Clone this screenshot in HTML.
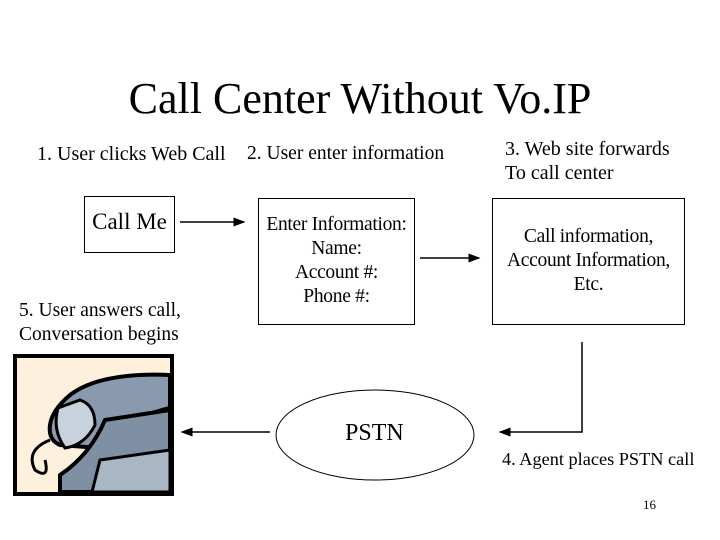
<!DOCTYPE html>
<html><head><style>
body{margin:0;width:720px;height:540px;background:#fff;position:relative;overflow:hidden;font-family:"Liberation Serif",serif;color:#000}
.t{position:absolute;white-space:nowrap}
.box{position:absolute;border:1px solid #000;box-sizing:border-box;text-align:center;font-family:"Liberation Serif",serif}
</style></head><body>
<div class="t" style="left:0;width:720px;text-align:center;top:73px;font-size:44px">Call Center Without Vo.IP</div>
<div class="t" style="left:37px;top:143px;font-size:20px">1. User clicks Web Call</div>
<div class="t" style="left:247px;top:143px;font-size:19.5px">2. User enter information</div>
<div class="t" style="left:505px;top:137px;font-size:20px;line-height:24px">3. Web site forwards<br>To call center</div>
<div class="t" style="left:19px;top:299px;font-size:19.5px;line-height:24px">5. User answers call,<br>Conversation begins</div>
<div class="t" style="left:502px;top:449px;font-size:18.3px">4. Agent places PSTN call</div>
<div class="t" style="left:643px;top:497px;font-size:13px">16</div>
<div class="box" style="left:84px;top:196px;width:91px;height:57px;font-size:23px;padding-top:12px">Call Me</div>
<div class="box" style="left:258px;top:198px;width:157px;height:127px;font-size:19.5px;line-height:24px;padding-top:14px;letter-spacing:-0.3px">Enter Information:<br>Name:<br>Account #:<br>Phone #:</div>
<div class="box" style="left:492px;top:198px;width:193px;height:127px;font-size:19.5px;line-height:24px;padding-top:26px;letter-spacing:-0.3px">Call information,<br>Account Information,<br>Etc.</div>
<div class="t" style="left:345px;top:420px;font-size:24px">PSTN</div>
<svg style="position:absolute;left:0;top:0" width="720" height="540">
<defs><marker id="a" markerWidth="8" markerHeight="6" refX="7" refY="3" orient="auto"><path d="M0,0L8,3L0,6z" fill="#000"/></marker></defs>
<g stroke="#000" stroke-width="1.5" fill="none">
<line x1="180" y1="222" x2="244" y2="222" marker-end="url(#a)"/>
<line x1="420" y1="258" x2="479" y2="258" marker-end="url(#a)"/>
<polyline points="582,342 582,432 500,432" marker-end="url(#a)"/>
<line x1="270" y1="432" x2="182" y2="432" marker-end="url(#a)"/>
</g>
<ellipse cx="375" cy="435" rx="99" ry="45" fill="none" stroke="#000" stroke-width="1"/>
<rect x="15" y="356" width="157" height="138" fill="#fdf0dc" stroke="#000" stroke-width="4"/>
<path d="M170,375 Q100,372 70,395 Q52,410 50,425 Q48,440 60,445 L100,448 Q120,420 170,408 Z" fill="#8a9aae" stroke="#000" stroke-width="4"/>
<path d="M58,408 Q52,430 65,448 Q85,445 95,425 Q95,405 80,400 Z" fill="#c8d2dc" stroke="#000" stroke-width="3"/>
<path d="M105,420 L170,410 L170,492 L60,492 L60,475 Q90,455 105,420 Z" fill="#7f90a5" stroke="#000" stroke-width="4"/>
<path d="M100,460 L170,450 L170,492 L92,492 Z" fill="#a9b6c4" stroke="#000" stroke-width="3"/>
<path d="M50,440 Q25,450 35,470 Q50,480 45,460" fill="none" stroke="#000" stroke-width="3"/>
</svg>
</body></html>
